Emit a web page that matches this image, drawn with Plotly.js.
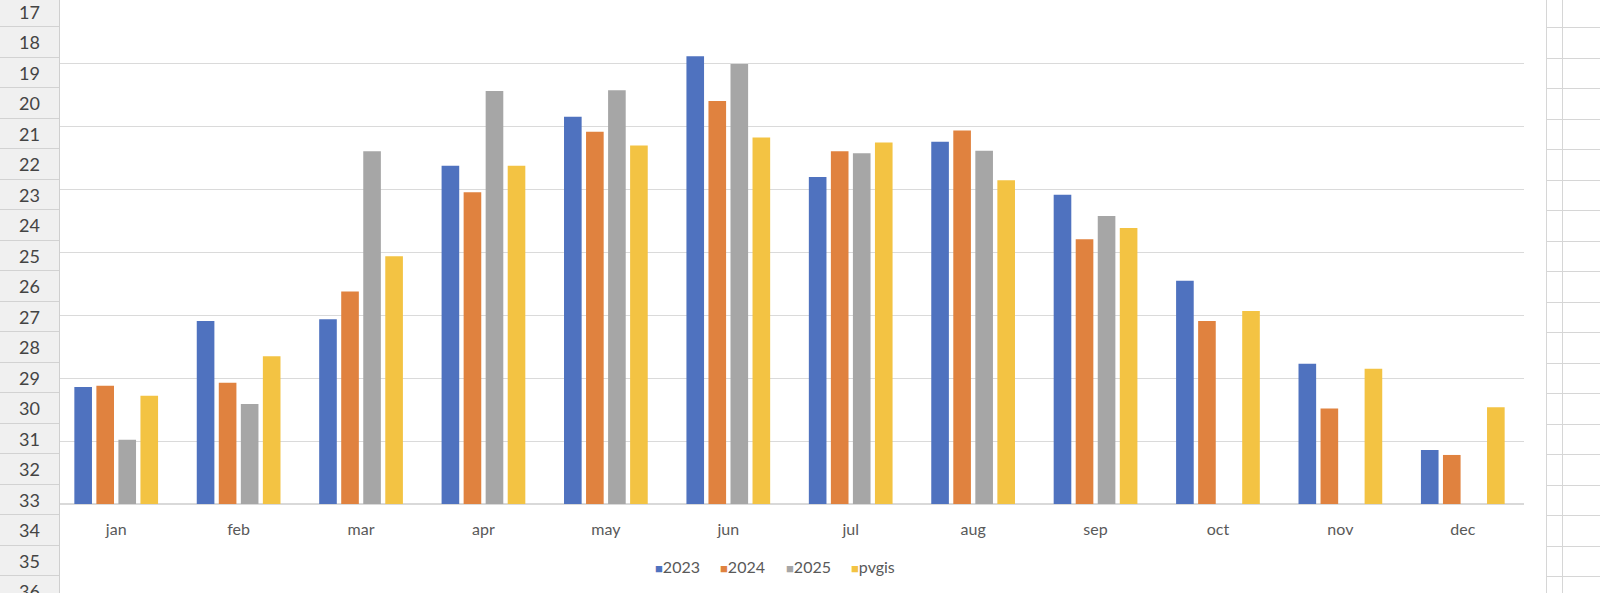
<!DOCTYPE html>
<html>
<head>
<meta charset="utf-8">
<script src="https://cdn.plot.ly/plotly-3.0.1.min.js"></script>
<style>
  html, body { margin:0; padding:0; background:#ffffff; }
  #wrap { position:relative; width:1600px; height:593px; overflow:hidden; background:#fff; }
  #chart { position:absolute; left:0; top:0; width:1600px; height:593px; }
  #rowhdr { position:absolute; left:0; top:0; width:60px; height:593px; background:#f0f0f0; border-right:1px solid #cfcfcf; box-sizing:border-box; overflow:hidden; }
  .rh { position:absolute; left:0; width:59px; text-align:center; font-family:Lato, "Open Sans", sans-serif; font-size:18px; color:#444; border-bottom:1px solid #d2d2d2; box-sizing:border-box; }
  #rightgrid { position:absolute; left:1546px; top:0; width:54px; height:593px; background:#fff; overflow:hidden; }
  .vl { position:absolute; top:0; width:1px; height:593px; background:#d6d6d6; }
  .hl { position:absolute; left:0; width:54px; height:1px; background:#d6d6d6; }
</style>
</head>
<body>
<div id="wrap">
  <div id="chart"></div>
  <div id="rowhdr"></div>
  <div id="rightgrid"></div>
</div>
<script>
// ---- data ----
var months = ["jan","feb","mar","apr","may","jun","jul","aug","sep","oct","nov","dec"];
var seriesNames = ["2023","2024","2025","pvgis"];
var y2023 = [93, 145.5, 147, 269, 308, 356, 260, 288, 246, 177.5, 111.5, 43];
var y2024 = [94, 96.5, 169, 248, 296, 320.5, 280.5, 297, 210.5, 145.5, 76, 39];
var y2025 = [51, 79.5, 280.5, 328.5, 329, 350, 279, 281, 229, null, null, null];
var yPvgis = [86, 117.5, 197, 269, 285, 291.5, 287.5, 257.5, 219.5, 153.5, 107.5, 77];
var rowLabels = [17,18,19,20,21,22,23,24,25,26,27,28,29,30,31,32,33,34,35,36];

// ---- styles ----
var colors = ["#4f72bf", "#e0823f", "#a6a6a6", "#f3c343"];
var allY = [y2023, y2024, y2025, yPvgis];

var traces = allY.map(function(vals, i){
  return {
    type: "bar",
    x: months,
    y: vals,
    name: seriesNames[i],
    marker: { color: colors[i], line: { width: 0 } },
    hoverinfo: "x+y+name"
  };
});

var plotL = 55, plotR = 1524, plotT = 1, plotB = 504.5;
var W = 1600, H = 593;

// custom legend as text (Excel-like compact legend)
var legendLeft = [653, 718, 784, 849];
var annotations = seriesNames.map(function(n, i){
  return {
    xref: "paper", yref: "paper",
    x: (legendLeft[i] - plotL) / (plotR - plotL),
    y: (plotB - 567) / (plotB - plotT),
    xanchor: "left", yanchor: "middle",
    showarrow: false,
    text: '<span style="color:' + colors[i] + ';font-size:13px">■</span>' + n,
    font: { family: "Lato, 'Open Sans', sans-serif", size: 16, color: "#595959" }
  };
});

var layout = {
  width: W, height: H,
  margin: { l: plotL, r: W - plotR, t: plotT, b: H - plotB, pad: 0 },
  paper_bgcolor: "rgba(0,0,0,0)",
  plot_bgcolor: "#ffffff",
  barmode: "group",
  bargap: 0.28,
  bargroupgap: 0.2,
  showlegend: false,
  font: { family: "Lato, 'Open Sans', sans-serif", size: 16, color: "#595959" },
  xaxis: {
    type: "category",
    showgrid: false,
    showline: false,
    ticks: "",
    ticklabelstandoff: 14,
    tickfont: { family: "Lato, 'Open Sans', sans-serif", size: 16, color: "#595959" },
    fixedrange: true
  },
  yaxis: {
    range: [0, 400],
    dtick: 50,
    tick0: 0,
    showticklabels: false,
    ticks: "",
    showgrid: true,
    gridcolor: "#dadada",
    gridwidth: 1,
    zeroline: true,
    zerolinecolor: "#d9d9d9",
    zerolinewidth: 1.5,
    showline: false,
    fixedrange: true
  },
  annotations: annotations
};

Plotly.newPlot("chart", traces, layout, { displayModeBar: false, staticPlot: true });

// ---- spreadsheet frame (row headers and right-hand cell grid) ----
var rowTop0 = -3.2, rowH = 30.5;
var hdr = document.getElementById("rowhdr");
rowLabels.forEach(function(r, i){
  var d = document.createElement("div");
  d.className = "rh";
  d.style.top = (rowTop0 + i * rowH) + "px";
  d.style.height = rowH + "px";
  d.style.lineHeight = rowH + "px";
  d.textContent = r;
  hdr.appendChild(d);
});
var rg = document.getElementById("rightgrid");
[0, 16].forEach(function(x){
  var v = document.createElement("div");
  v.className = "vl"; v.style.left = x + "px"; rg.appendChild(v);
});
rowLabels.forEach(function(r, i){
  var h = document.createElement("div");
  h.className = "hl"; h.style.top = Math.round(rowTop0 + (i + 1) * rowH) + "px"; rg.appendChild(h);
});
</script>
</body>
</html>
